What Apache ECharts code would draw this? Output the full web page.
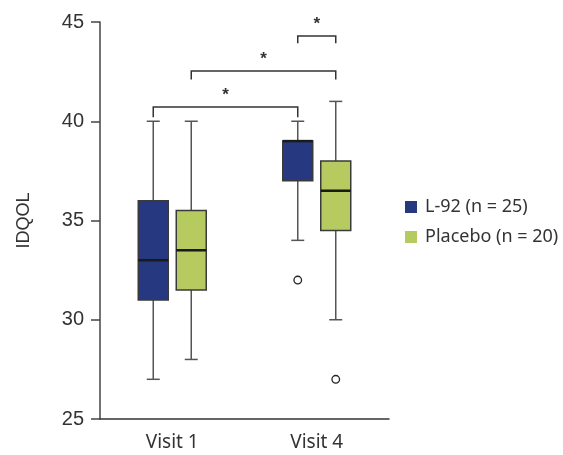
<!DOCTYPE html>
<html>
<head>
<meta charset="utf-8">
<script src="https://cdn.jsdelivr.net/npm/echarts@6/dist/echarts.min.js"></script>
<style>
  html, body { margin: 0; padding: 0; background: #fff; }
  #chart { width: 563px; height: 455px; }
</style>
</head>
<body>
<div id="chart"></div>
<script>
const categories = ['Visit 1', 'Visit 4'];
const seriesNames = ['L-92 (n = 25)', 'Placebo (n = 20)'];
// [min, Q1, median, Q3, max] per visit
const l92Stats = [[27, 31, 33, 36, 40], [34, 37, 39, 39, 40]];
const placeboStats = [[28, 31.5, 33.5, 35.5, 40], [30, 34.5, 36.5, 38, 41]];
// [visit index, value]
const l92Outliers = [[1, 32]];
const placeboOutliers = [[1, 27]];
// [from visit, from group, to visit, to group, bar value, leg end value, label]
const brackets = [
  [0, 0, 1, 0, 40.72, 40.2, '*'],
  [0, 1, 1, 1, 42.53, 42.1, '*'],
  [1, 0, 1, 1, 44.29, 43.93, '*']
];
const yMin = 25, yMax = 45, yStep = 5;

const colors = ['#253880', '#b5cb5f'];
const groupOffset = [-19, 19];
const boxWidth = 30;
const capWidth = 13;

const chart = echarts.init(document.getElementById('chart'));

// 箱线图用 custom 系列绘制，便于控制两组的间距
const boxSeries = (name, stats, group) => ({
  name: name,
  type: 'custom',
  itemStyle: { color: colors[group] },
  encode: { x: 0, y: [1, 2, 3, 4, 5] },
  data: stats.map((s, i) => [i].concat(s)),
  renderItem: function (params, api) {
    const cat = api.value(0);
    const pMin = api.coord([cat, api.value(1)]);
    const pQ1 = api.coord([cat, api.value(2)]);
    const pMed = api.coord([cat, api.value(3)]);
    const pQ3 = api.coord([cat, api.value(4)]);
    const pMax = api.coord([cat, api.value(5)]);
    const x = pMin[0] + groupOffset[group];
    const lineStyle = { stroke: '#555', lineWidth: 1.5 };
    return {
      type: 'group',
      children: [
        { type: 'line', shape: { x1: x, y1: pMax[1], x2: x, y2: pQ3[1] }, style: lineStyle },
        { type: 'line', shape: { x1: x, y1: pQ1[1], x2: x, y2: pMin[1] }, style: lineStyle },
        { type: 'line', shape: { x1: x - capWidth / 2, y1: pMax[1], x2: x + capWidth / 2, y2: pMax[1] }, style: lineStyle },
        { type: 'line', shape: { x1: x - capWidth / 2, y1: pMin[1], x2: x + capWidth / 2, y2: pMin[1] }, style: lineStyle },
        {
          type: 'rect',
          shape: { x: x - boxWidth / 2, y: pQ3[1], width: boxWidth, height: pQ1[1] - pQ3[1] },
          style: { fill: colors[group], stroke: '#3a3a3a', lineWidth: 1.5 }
        },
        { type: 'line', shape: { x1: x - boxWidth / 2, y1: pMed[1], x2: x + boxWidth / 2, y2: pMed[1] }, style: { stroke: '#1a1a1a', lineWidth: 2.5 } }
      ]
    };
  },
  z: 3
});

const outlierSeries = (points, group) => ({
  type: 'custom',
  encode: { x: 0, y: 1 },
  data: points,
  renderItem: function (params, api) {
    const p = api.coord([api.value(0), api.value(1)]);
    return {
      type: 'circle',
      shape: { cx: p[0] + groupOffset[group], cy: p[1], r: 3.8 },
      style: { fill: '#fff', stroke: '#222', lineWidth: 1.3 }
    };
  },
  z: 3
});

const bracketSeries = {
  type: 'custom',
  clip: false,
  encode: { x: [0, 2], y: [4, 5] },
  data: brackets,
  renderItem: function (params, api) {
    const a = api.coord([api.value(0), api.value(4)]);
    const b = api.coord([api.value(2), api.value(4)]);
    const leg = api.coord([api.value(0), api.value(5)]);
    const x1 = a[0] + groupOffset[api.value(1)];
    const x2 = b[0] + groupOffset[api.value(3)];
    const y = a[1];
    const st = { stroke: '#333', lineWidth: 1.5, fill: null };
    return {
      type: 'group',
      children: [
        { type: 'polyline', shape: { points: [[x1, leg[1]], [x1, y], [x2, y], [x2, leg[1]]] }, style: st },
        {
          type: 'text',
          style: {
            text: brackets[params.dataIndex][6],
            x: (x1 + x2) / 2, y: y - 12,
            align: 'center', verticalAlign: 'middle',
            font: 'bold 17px "Liberation Sans"', fill: '#333'
          }
        }
      ]
    };
  },
  z: 4
};

const option = {
  animation: false,
  grid: { left: 100, right: 174, top: 22, bottom: 36 },
  legend: {
    data: seriesNames,
    orient: 'vertical',
    left: 400,
    top: 193,
    icon: 'rect',
    itemWidth: 12,
    itemHeight: 12,
    itemGap: 12,
    textStyle: { fontFamily: 'Noto Sans', fontSize: 18, color: '#333', lineHeight: 18, padding: [0, 0, 0, 3] }
  },
  xAxis: {
    type: 'category',
    data: categories,
    axisLine: { lineStyle: { color: '#333', width: 1.5 } },
    axisTick: { alignWithLabel: true, length: 9, lineStyle: { color: '#444', width: 1.5 } },
    axisLabel: { color: '#333', fontSize: 19, fontFamily: 'Noto Sans', margin: 14 }
  },
  yAxis: {
    type: 'value',
    name: 'IDQOL',
    nameLocation: 'middle',
    nameGap: 67,
    nameTextStyle: { color: '#333', fontSize: 18, fontFamily: 'Liberation Sans' },
    min: yMin,
    max: yMax,
    interval: yStep,
    axisLine: { show: true, lineStyle: { color: '#444', width: 1.5 } },
    axisTick: { show: true, length: 9, lineStyle: { color: '#444', width: 1.5 } },
    axisLabel: { color: '#333', fontSize: 20, fontFamily: 'Liberation Sans', margin: 16 },
    splitLine: { show: false }
  },
  series: [
    boxSeries(seriesNames[0], l92Stats, 0),
    boxSeries(seriesNames[1], placeboStats, 1),
    outlierSeries(l92Outliers, 0),
    outlierSeries(placeboOutliers, 1),
    bracketSeries
  ]
};

chart.setOption(option);
</script>
</body>
</html>
